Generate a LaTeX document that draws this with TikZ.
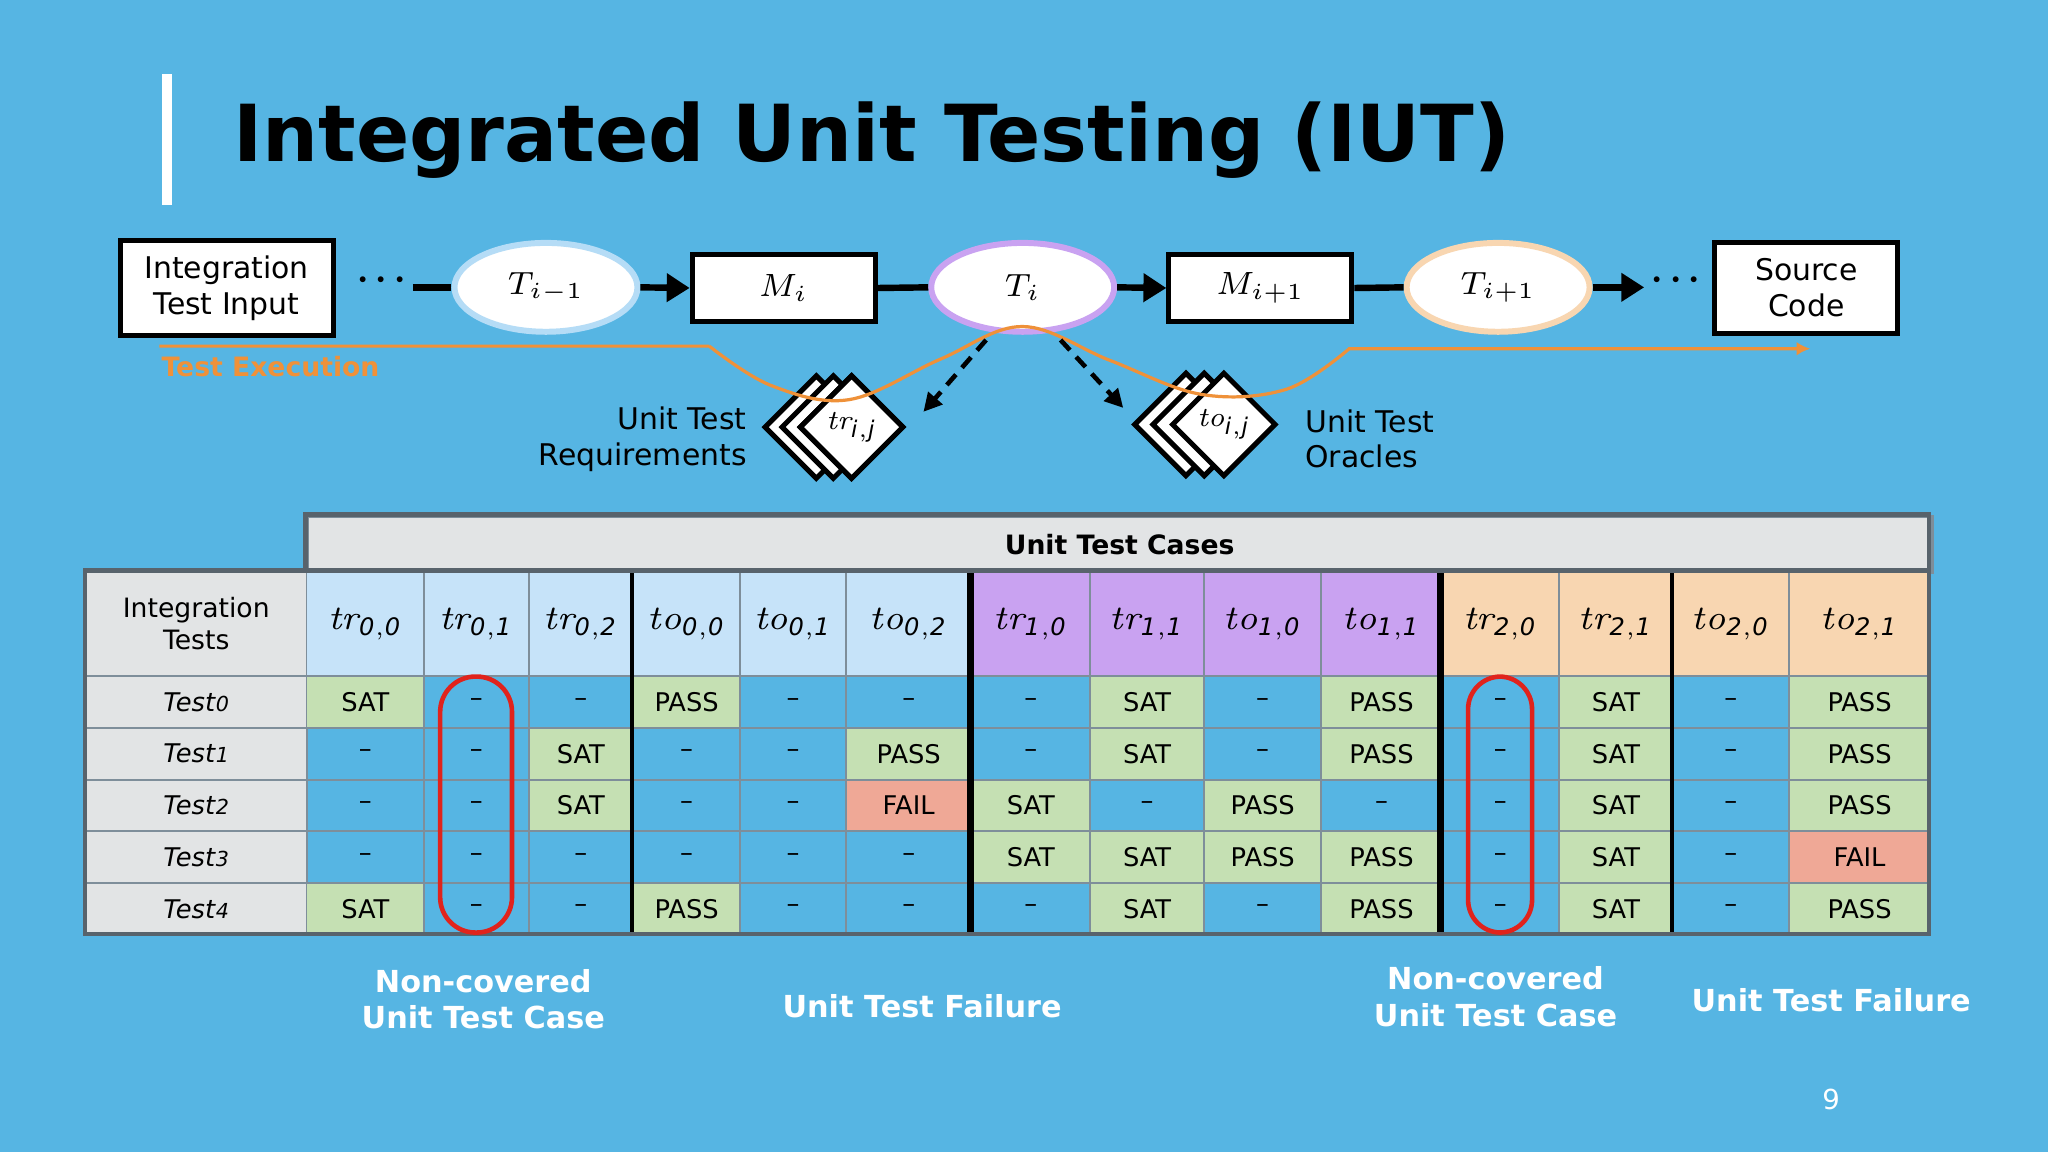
\documentclass[tikz,border=0pt]{standalone}
\usepackage{fontspec}
\setmainfont{DejaVu Sans}
\newfontfamily\lmr{Latin Modern Roman}
\usepackage{graphicx}
\usetikzlibrary{arrows.meta,shapes.geometric}
\definecolor{bg}{HTML}{56B5E3}
\definecolor{cgreen}{HTML}{C5E0B3}
\definecolor{cpink}{HTML}{EFA896}
\definecolor{hblue}{HTML}{C6E3F9}
\definecolor{hpurp}{HTML}{C9A2F1}
\definecolor{hpeach}{HTML}{F8D6B1}
\definecolor{hgray}{HTML}{E2E4E5}
\definecolor{gline}{HTML}{7E8E9A}
\definecolor{orng}{HTML}{EF9139}
\definecolor{redc}{HTML}{E0231C}
\def\fs#1{\fontsize{#1}{\dimexpr #1pt*12/10\relax}\selectfont}
\def\tS{SAT}\def\tP{PASS}\def\tF{FAIL}\def\tN{--}
\def\hv#1#2{{\lmr\itshape #1}$_{\mathit{#2}}$}
\begin{document}
\begin{tikzpicture}[x=0.01cm,y=-0.01cm,
  box/.style={draw=black,line width=1.1pt,fill=white,inner sep=0pt,align=center},
  ell/.style={ellipse,fill=white,line width=1.3pt,minimum width=1.4cm,minimum height=0.68cm,inner sep=0pt},
  conn/.style={line width=1.4pt},
  arr/.style={conn,-{Triangle[length=5pt,width=6pt]}},
  dm/.style={diamond,draw=black,fill=white,line width=1.1pt,minimum size=0.8cm,inner sep=0pt},
  cell/.style={rectangle,draw=gline,line width=0.4pt,inner sep=0pt,minimum height=0.396cm,anchor=north west,font=\fs{5.6}},
  cS/.style={fill=cgreen},cP/.style={fill=cgreen},cF/.style={fill=cpink},cN/.style={},
  hd/.style={rectangle,draw=gline,line width=0.4pt,inner sep=0pt,minimum height=0.8cm,anchor=north west,font=\fs{7.5}},
  lbl/.style={text=white,font=\bfseries\fs{6.6},align=center},
  dots/.style={font=\bfseries\fs{12},inner sep=1pt}]
\fill[bg] (0,0) rectangle (1568,882);
\fill[white] (124,57) rectangle (132,157);
\node[anchor=west,inner sep=0pt] (title) at (178,107) {\resizebox{9.77cm}{!}{\bfseries Integrated Unit Testing (IUT)}};
% top chain
\node[box,minimum width=1.63cm,minimum height=0.73cm,font=\fs{6.5}] (ii) at (173.5,220.5) {Integration\\Test Input};
\node[dots] (d1) at (292,215) {$\cdot\!\cdot\!\cdot$};
\node[ell,draw=hblue!85!bg] (Tm) at (418,220) {\fs{7}$T_{i-1}$};
\node[box,minimum width=1.4cm,minimum height=0.51cm,font=\fs{7}] (Mi) at (600,220.5) {$M_i$};
\node[ell,draw=hpurp] (Ti) at (783,220) {\fs{7}$T_i$};
\node[box,minimum width=1.4cm,minimum height=0.51cm,font=\fs{7}] (Mj) at (965,220.5) {$M_{i+1}$};
\node[ell,draw=hpeach] (Tp) at (1147,220) {\fs{7}$T_{i+1}$};
\node[dots] (d2) at (1283,215) {$\cdot\!\cdot\!\cdot$};
\node[box,minimum width=1.4cm,minimum height=0.69cm,font=\fs{6.5}] (sc) at (1383,220.5) {Source\\Code};
\draw[conn] (d1.east |- Tm.west) -- (Tm.west);
\draw[arr] (Tm.east) -- (Mi.west);
\draw[conn] (Mi.east) -- (Ti.west);
\draw[arr] (Ti.east) -- (Mj.west);
\draw[conn] (Mj.east) -- (Tp.west);
\draw[arr] (Tp.east) -- (d2.west |- Tp.east);
% diamonds
\foreach \dx in {0,13,27}{\node[dm] at (625+\dx,327) {};}
\node[dm] (tr) at (652,327) {\fs{6}\hv{tr}{i,j}};
\foreach \dx in {0,14}{\node[dm] at (908+\dx,325) {};}
\node[dm] (to) at (937,325) {\fs{6}\hv{to}{i,j}};
\node[anchor=east,align=right,font=\fs{6.5}] (utr) at (584,336) {Unit Test\\Requirements};
\node[anchor=west,align=left,font=\fs{6.5}] (uto) at (987,336) {Unit Test\\Oracles};
% orange path
\draw[orng,line width=0.7pt,-{Latex[length=3pt,width=3pt]}] (122,265) -- (543,265) plot[smooth,tension=0.6] coordinates {(543,265) (590,295) (650,306) (720,275) (783,250) (850,276) (920,302) (985,298) (1033,267)} -- (1386,267);
\node[anchor=west,text=orng,font=\bfseries\fs{5.8},inner sep=0pt] (te) at (123,281) {Test Execution};
\draw[densely dashed,line width=1pt,-{Triangle[length=4pt,width=4pt]}] ([shift={(-28,4)}]Ti.south) -- ++(-48,55) coordinate (ea);
\draw[densely dashed,line width=1pt,-{Triangle[length=4pt,width=4pt]}] ([shift={(29,4)}]Ti.south) -- ++(48,52) coordinate (eb);
% table
\node[rectangle,fill=hgray,draw=gline,line width=0.8pt,minimum width=12.43cm,minimum height=0.43cm,anchor=north west,inner sep=0pt,font=\bfseries\fs{5.8}] (utc) at (234,394) {Unit Test Cases};
\node[hd,fill=hgray,minimum width=1.69cm,align=center,font=\fs{5.8}] (h0) at (65,437) {Integration\\Tests};
\foreach \t/\s [count=\c] in {tr/{0,0},tr/{0,1},tr/{0,2},to/{0,0},to/{0,1},to/{0,2},tr/{1,0},tr/{1,1},to/{1,0},to/{1,1},tr/{2,0},tr/{2,1},to/{2,0},to/{2,1}}{
  \pgfmathsetmacro\xl{{234,324,404,484,566,647,743,834,921,1011,1103,1193,1280,1369,1477}[\c-1]}
  \pgfmathsetmacro\xr{{234,324,404,484,566,647,743,834,921,1011,1103,1193,1280,1369,1477}[\c]}
  \pgfmathsetmacro\w{(\xr-\xl)/100}
  \pgfmathsetmacro\hc{\c<7?"hblue":(\c<11?"hpurp":"hpeach")}
  \node[hd,fill=\hc,minimum width=\w cm] (h\c) at (\xl,437) {\hv{\t}{\s}};
}
\foreach \r/\vals in {0/{S,N,N,P,N,N,N,S,N,P,N,S,N,P},1/{N,N,S,N,N,P,N,S,N,P,N,S,N,P},2/{N,N,S,N,N,F,S,N,P,N,N,S,N,P},3/{N,N,N,N,N,N,S,S,P,P,N,S,N,F},4/{S,N,N,P,N,N,N,S,N,P,N,S,N,P}}{
  \pgfmathsetmacro\yt{517+39.6*\r}
  \node[cell,fill=hgray,minimum width=1.69cm] (r\r) at (65,\yt) {\textit{Test}{\fs{4.5}\itshape\r}};
  \foreach \v [count=\c] in \vals {
    \pgfmathsetmacro\xl{{234,324,404,484,566,647,743,834,921,1011,1103,1193,1280,1369,1477}[\c-1]}
    \pgfmathsetmacro\xr{{234,324,404,484,566,647,743,834,921,1011,1103,1193,1280,1369,1477}[\c]}
    \pgfmathsetmacro\w{(\xr-\xl)/100}
    \node[cell,c\v,minimum width=\w cm] (c\r-\c) at (\xl,\yt) {\csname t\v\endcsname};
  }
}
\draw[black,line width=0.9pt] (484,437) -- (484,715);
\draw[black,line width=0.9pt] (1280,437) -- (1280,715);
\draw[black,line width=1.6pt] (743,437) -- (743,715);
\draw[black,line width=1.6pt] (1103,437) -- (1103,715);
\draw[gline!70!black,line width=1pt] (65,437) rectangle (1477,715);
\draw[gline!70!black,line width=1pt] (234,394) rectangle (1477,437);
\draw[redc,line width=1pt,rounded corners=0.27cm] (337,518) rectangle (392,714);
\draw[redc,line width=1pt,rounded corners=0.25cm] (1124,518) rectangle (1173,714);
% labels
\node[lbl] (l1) at (370,765) {Non-covered\\Unit Test Case};
\node[lbl] (l2) at (706,770) {Unit Test Failure};
\node[lbl] (l3) at (1145,763) {Non-covered\\Unit Test Case};
\node[lbl] (l4) at (1402,766) {Unit Test Failure};
\node[text=white,font=\fs{6}] (pg) at (1402,842) {9};
\end{tikzpicture}
\end{document}
